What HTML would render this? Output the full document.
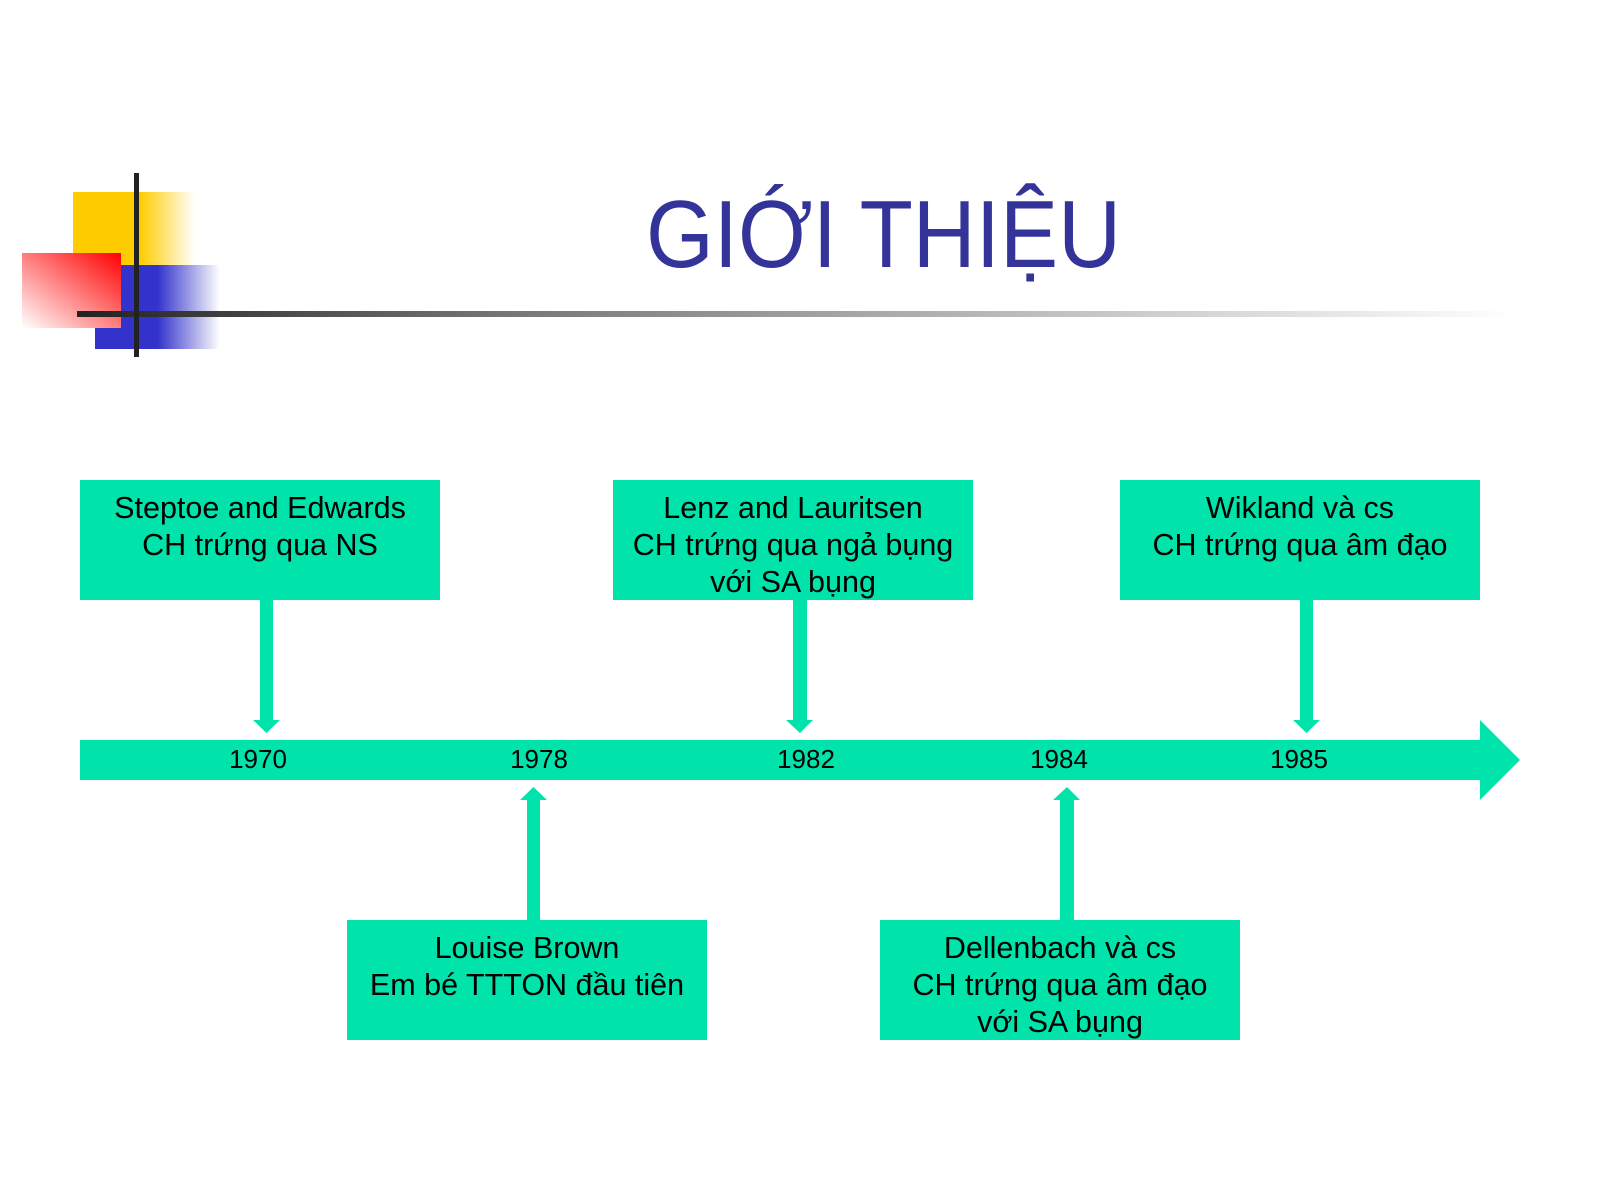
<!DOCTYPE html>
<html><head><meta charset="utf-8"><style>
html,body{margin:0;padding:0;background:#fff;}
svg{display:block;}
text{font-family:"Liberation Sans","DejaVu Sans",sans-serif;}
</style></head><body>
<svg width="1600" height="1200" viewBox="0 0 1600 1200" xmlns="http://www.w3.org/2000/svg">
<defs>
<linearGradient id="yel" x1="0" x2="1" y1="0" y2="0">
<stop offset="0" stop-color="#ffcc00"/><stop offset="0.55" stop-color="#ffcc00"/><stop offset="1" stop-color="#ffcc00" stop-opacity="0"/></linearGradient>
<linearGradient id="blu" x1="0" x2="1" y1="0" y2="0">
<stop offset="0" stop-color="#3333cc"/><stop offset="0.5" stop-color="#3333cc"/><stop offset="1" stop-color="#3333cc" stop-opacity="0"/></linearGradient>
<linearGradient id="red" x1="1" y1="0" x2="0" y2="1">
<stop offset="0" stop-color="#ff0000"/><stop offset="1" stop-color="#ffffff"/></linearGradient>
<linearGradient id="ln" x1="0" x2="1" y1="0" y2="0">
<stop offset="0" stop-color="#222"/><stop offset="0.3" stop-color="#777"/><stop offset="1" stop-color="#fff"/></linearGradient>
</defs>
<rect x="73" y="192" width="122" height="73" fill="url(#yel)"/>
<rect x="95" y="265" width="125" height="84" fill="url(#blu)"/>
<rect x="22" y="253" width="99" height="75" fill="url(#red)"/>
<rect x="77" y="311" width="1440" height="6" fill="url(#ln)"/>
<rect x="134" y="173" width="5" height="184" fill="#222"/>
<text x="646" y="267" font-size="96" fill="#333399" textLength="475" lengthAdjust="spacingAndGlyphs">GIỚI THIỆU</text>

<g fill="#00e3aa">
<rect x="80" y="740" width="1400" height="40"/>
<polygon points="1480,720 1520,760 1480,800"/>
<rect x="80" y="480" width="360" height="120"/>
<rect x="613" y="480" width="360" height="120"/>
<rect x="1120" y="480" width="360" height="120"/>
<rect x="347" y="920" width="360" height="120"/>
<rect x="880" y="920" width="360" height="120"/>
<rect x="260" y="600" width="13" height="120"/><polygon points="253,720 280,720 266.5,733"/>
<rect x="793" y="600" width="14" height="120"/><polygon points="786,720 813,720 800,733"/>
<rect x="1300" y="600" width="13" height="120"/><polygon points="1293,720 1320,720 1306.5,733"/>
<rect x="527" y="800" width="13" height="120"/><polygon points="520,800 547,800 533.5,787"/>
<rect x="1060" y="800" width="14" height="120"/><polygon points="1053,800 1080,800 1067,787"/>
</g>

<g font-size="26" fill="#000" text-anchor="middle">
<text x="258" y="768">1970</text>
<text x="539" y="768">1978</text>
<text x="806" y="768">1982</text>
<text x="1059" y="768">1984</text>
<text x="1299" y="768">1985</text>
</g>
<g font-size="30.5" fill="#000" text-anchor="middle">
<text x="260" y="518">Steptoe and Edwards</text>
<text x="260" y="555">CH trứng qua NS</text>
<text x="793" y="518">Lenz and Lauritsen</text>
<text x="793" y="555">CH trứng qua ngả bụng</text>
<text x="793" y="592">với SA bụng</text>
<text x="1300" y="518">Wikland và cs</text>
<text x="1300" y="555">CH trứng qua âm đạo</text>
<text x="527" y="958">Louise Brown</text>
<text x="527" y="995">Em bé TTTON đầu tiên</text>
<text x="1060" y="958">Dellenbach và cs</text>
<text x="1060" y="995">CH trứng qua âm đạo</text>
<text x="1060" y="1032">với SA bụng</text>
</g>
</svg>
</body></html>
